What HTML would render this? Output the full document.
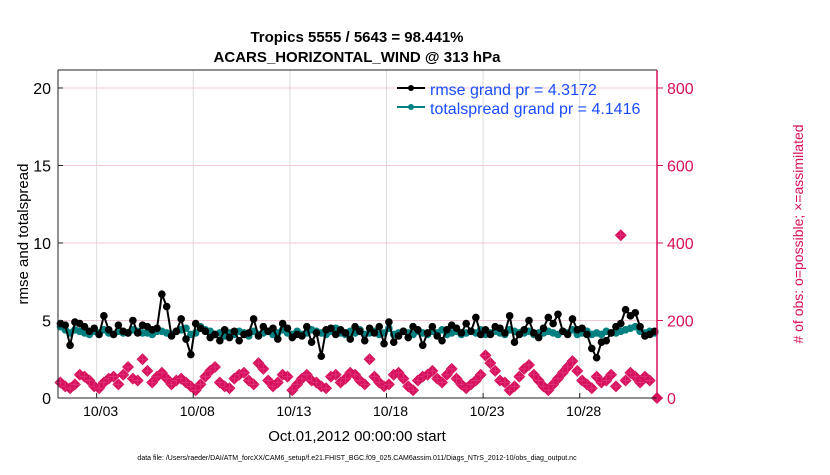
<!DOCTYPE html>
<html><head><meta charset="utf-8">
<style>
body{margin:0;background:#fff;width:830px;height:470px;overflow:hidden}
svg{font-family:"Liberation Sans",Helvetica,Arial,sans-serif}
</style></head>
<body>
<svg id="chart" width="830" height="470" viewBox="0 0 830 470" xmlns="http://www.w3.org/2000/svg">
<text x="357" y="42" text-anchor="middle" font-size="15" font-weight="bold">Tropics 5555 / 5643 = 98.441%</text>
<text x="357" y="62" text-anchor="middle" font-size="15" font-weight="bold">ACARS_HORIZONTAL_WIND @ 313 hPa</text>
<g id="grid"></g>
<g id="obs"></g>
<g id="spread"></g>
<g id="rmse"></g>
<g id="axes"></g>
<g>
 <g>
  <line x1="397" y1="88" x2="425" y2="88" stroke="#000" stroke-width="2"/><circle cx="411" cy="88" r="3" fill="#000"/>
  <text x="430" y="95" font-size="16" fill="#1a4dff">rmse grand pr = 4.3172</text>
 </g>
 <g>
  <line x1="397" y1="107" x2="425" y2="107" stroke="#008080" stroke-width="2"/><circle cx="411" cy="107" r="3" fill="#008080"/>
  <text x="430" y="114" font-size="16" fill="#1a4dff">totalspread grand pr = 4.1416</text>
 </g>
</g>
<text transform="translate(28,234) rotate(-90)" text-anchor="middle" font-size="15">rmse and totalspread</text>
<text transform="translate(803,234) rotate(-90)" text-anchor="middle" font-size="14" fill="#d6105a"># of obs: o=possible; ×=assimilated</text>
<text x="357" y="441" text-anchor="middle" font-size="15">Oct.01,2012 00:00:00 start</text>
<text x="357" y="460" text-anchor="middle" font-size="7">data file: /Users/raeder/DAI/ATM_forcXX/CAM6_setup/f.e21.FHIST_BGC.f09_025.CAM6assim.011/Diags_NTrS_2012-10/obs_diag_output.nc</text>
</svg>
<script>
const rmse=[4.8,4.7,3.4,4.9,4.8,4.6,4.3,4.5,4.1,5.3,4.4,4.1,4.7,4.3,4.2,5.0,4.2,4.7,4.6,4.4,4.5,6.7,5.9,4.0,4.3,5.1,3.8,2.8,4.8,4.5,4.3,3.9,4.1,3.7,4.4,3.9,4.3,3.7,4.1,4.2,5.1,4.0,4.6,4.3,4.5,3.8,4.8,4.5,3.9,4.1,4.0,4.6,3.6,4.2,2.7,4.4,4.5,4.1,4.4,4.2,3.8,4.6,4.3,3.7,4.5,4.2,4.6,3.5,4.9,3.6,4.0,4.3,3.9,4.6,4.4,3.4,4.2,4.6,4.0,3.7,4.4,4.7,4.5,4.2,4.8,4.3,5.2,4.1,4.4,4.1,4.6,4.5,4.2,5.3,3.6,4.1,4.4,5.0,4.2,3.9,4.5,5.2,4.8,5.4,4.3,4.1,5.1,4.4,4.5,4.1,3.2,2.6,3.6,3.7,4.2,4.6,4.8,5.7,5.3,5.5,4.6,4.0,4.1,4.3];
const spread=[4.6,4.4,4.2,4.4,4.3,4.2,4.1,4.3,4.2,4.4,4.2,4.1,4.3,4.2,4.2,4.4,4.3,4.2,4.2,4.1,4.3,4.3,4.2,4.1,4.3,4.4,4.5,4.1,4.2,4.6,4.4,4.3,4.1,4.2,4.0,4.2,4.1,4.3,4.2,4.0,4.3,4.1,4.2,4.3,4.1,4.2,4.4,4.2,4.1,4.3,4.1,4.2,4.4,4.3,4.2,4.1,4.3,4.5,4.2,4.1,4.3,4.2,4.4,4.1,4.2,4.3,4.1,4.2,4.5,4.1,4.2,4.3,4.2,4.1,4.3,4.2,4.1,4.3,4.2,4.4,4.1,4.2,4.3,4.1,4.2,4.3,4.2,4.4,4.1,4.2,4.3,4.2,4.1,4.4,4.3,4.2,4.2,4.3,4.1,4.2,4.2,4.3,4.2,4.1,4.3,4.2,4.4,4.1,4.2,4.3,4.1,4.2,4.1,4.3,4.2,4.2,4.3,4.4,4.5,4.6,4.3,4.2,4.3,4.2];
const obs=[40,30,25,35,60,55,45,30,25,40,50,55,35,60,80,50,45,100,70,40,55,65,50,35,45,50,40,30,20,35,55,70,80,40,30,25,50,60,65,45,35,90,75,45,30,40,60,55,20,35,50,60,45,40,30,25,55,60,40,50,65,60,45,35,100,55,40,30,35,60,65,50,30,20,45,55,60,70,50,40,60,75,50,35,25,35,45,60,110,90,70,45,40,20,30,55,75,85,60,45,30,20,35,50,65,80,95,70,45,35,25,55,40,45,60,30,420,45,65,55,40,55,45,0];
const leftTicks=[0,5,10,15,20];
const rightTicks=[0,200,400,600,800];
const dateLabels=["10/03","10/08","10/13","10/18","10/23","10/28"];
const dateDays=[2,7,12,17,22,27];

const NS="http://www.w3.org/2000/svg";
const X0=58,X1=657,Y0=398,YT=70,DAYS=31,YMAX=21.16;
const x=d=>X0+(d/DAYS)*(X1-X0);
const y=v=>Y0-(v/YMAX)*(Y0-YT);
const yr=c=>y(c/40);
function mk(tag,attrs,parent){const e=document.createElementNS(NS,tag);for(const k in attrs)e.setAttribute(k,attrs[k]);parent.appendChild(e);return e;}
const grid=document.getElementById('grid'),axes=document.getElementById('axes');
mk('rect',{x:X0,y:YT,width:X1-X0,height:Y0-YT,fill:'#fff'},grid);
dateDays.forEach((d,i)=>{
 const l=mk('line',{x1:x(d),x2:x(d),y1:YT,y2:Y0,stroke:'#dcdcdc','stroke-width':1},grid);
 
 
 const t=mk('text',{x:x(d)+4,y:416,'text-anchor':'middle','font-size':14},axes);
 t.textContent=dateLabels[i];
 
 
 mk('line',{x1:x(d),x2:x(d),y1:Y0,y2:Y0-5,stroke:'#222'},axes);
});
rightTicks.forEach(c=>{
 if(c>0){const l=mk('line',{x1:X0,x2:X1,y1:yr(c),y2:yr(c),stroke:'#f3c8d6','stroke-width':1},grid);
 
 }
 const t=mk('text',{x:667,y:yr(c)+6,'font-size':16,fill:'#d6105a'},axes);
 t.textContent=c;
 
 
 mk('line',{x1:X1,x2:X1+6,y1:yr(c),y2:yr(c),stroke:'#d6105a'},axes);
});
leftTicks.forEach(v=>{
 const t=mk('text',{x:51,y:y(v)+6,'text-anchor':'end','font-size':16},axes);
 t.textContent=v;
 
 
 mk('line',{x1:X0,x2:X0+5,y1:y(v),y2:y(v),stroke:'#222'},axes);
});
mk('line',{x1:X0,x2:X0,y1:YT,y2:Y0,stroke:'#222'},axes);
mk('line',{x1:X0,x2:X1,y1:Y0,y2:Y0,stroke:'#222'},axes);
mk('line',{x1:X0,x2:X1,y1:YT,y2:YT,stroke:'#222'},axes);
mk('line',{x1:X1,x2:X1,y1:YT,y2:Y0,stroke:'#d6105a','stroke-width':1.5},axes);
const tOf=i=>(i+0.5)/4;
const og=document.getElementById('obs');
obs.forEach((c,i)=>{
 const cx=(i===obs.length-1)?X1:x(tOf(i)),cy=yr(c);
 const p=mk('path',{d:`M${cx} ${cy-6}L${cx+6} ${cy}L${cx} ${cy+6}L${cx-6} ${cy}Z`,fill:'#d6105a'},og);
 
 
 const q=mk('path',{d:`M${cx-5} ${cy}H${cx+5}M${cx} ${cy-5}V${cy+5}`,stroke:'#e0307a','stroke-width':1},og);
 
 
});
function series(arr,g,col){
 const pts=arr.map((v,i)=>x(tOf(i)).toFixed(1)+','+y(v).toFixed(1)).join(' ');
 const pl=mk('polyline',{points:pts,fill:'none',stroke:col,'stroke-width':2},g);
 
 
 arr.forEach((v,i)=>{
  const c=mk('circle',{cx:x(tOf(i)),cy:y(v),r:3.8,fill:col},g);
  
  
 });
}
series(spread,document.getElementById('spread'),'#008080');
series(rmse,document.getElementById('rmse'),'#000');
</script>
</body></html>
